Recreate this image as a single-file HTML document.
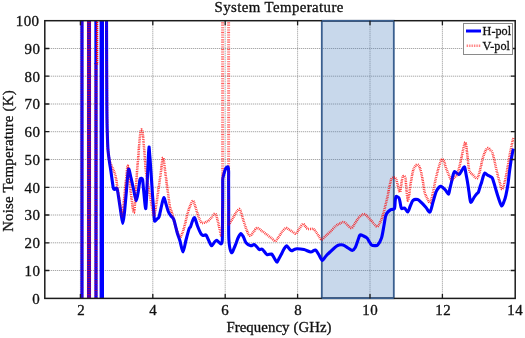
<!DOCTYPE html><html><head><meta charset="utf-8"><title>System Temperature</title><style>html,body{margin:0;padding:0;background:#fff}
#w{position:relative;width:525px;height:338px;overflow:hidden;background:#fff;font-family:"Liberation Serif",serif;color:#111;font-size:14.5px;line-height:1;-webkit-text-stroke:0.3px #111}
#w div{position:absolute;white-space:nowrap}
.yt{right:485.6px;text-align:right;font-size:13.6px;letter-spacing:0.3px;margin-right:-0.3px;transform-origin:100% 50%;transform:scaleX(1.1)}
.xt{width:40px;text-align:center;font-size:13.6px;letter-spacing:0.3px;text-indent:0.3px;top:303.6px;transform:scaleX(1.1)}
</style></head><body><div id="w">
<svg width="525" height="338" viewBox="0 0 525 338" style="position:absolute;left:0;top:0">
<defs><clipPath id="c"><rect x="44.8" y="20.7" width="470.4" height="277.7"/></clipPath></defs>
<rect x="0" y="0" width="525" height="338" fill="#fff"/>
<path d="M80.4,20.7V298.4M152.8,20.7V298.4M225.2,20.7V298.4M297.6,20.7V298.4M370.0,20.7V298.4M442.4,20.7V298.4M44.8,270.5H515.2M44.8,242.8H515.2M44.8,215.0H515.2M44.8,187.3H515.2M44.8,159.5H515.2M44.8,131.7H515.2M44.8,104.0H515.2M44.8,76.2H515.2M44.8,48.5H515.2" stroke="#808080" stroke-width="1" stroke-dasharray="1 1" fill="none" opacity="0.85"/>
<rect x="321.8" y="20.8" width="72" height="277.4" fill="#4f81bd" fill-opacity="0.31" stroke="#3a5f8f" stroke-width="1.8"/>
<g clip-path="url(#c)" fill="none" stroke-linejoin="round" stroke-linecap="butt">
<path d="M106.5,10.0C106.6,30.0 107.0,106.7 107.2,130.0C107.5,153.3 107.6,145.0 108.0,150.0C108.4,155.0 108.8,157.0 109.5,160.0C110.2,163.0 111.5,165.4 112.5,168.0C113.5,170.6 114.6,172.2 115.4,175.4C116.2,178.6 116.7,183.2 117.3,187.0C117.9,190.8 118.4,193.7 119.2,198.5C120.0,203.3 121.3,214.6 122.0,216.0C122.7,217.4 122.9,210.5 123.3,207.0C123.7,203.5 124.0,199.5 124.5,195.0C125.0,190.5 125.5,184.9 126.0,180.0C126.5,175.1 127.2,166.5 127.7,165.8C128.2,165.1 128.5,172.0 129.0,176.0C129.5,180.0 129.7,183.9 130.5,190.0C131.3,196.1 133.0,211.9 133.8,212.7C134.6,213.5 135.0,201.8 135.5,195.0C136.0,188.2 136.5,178.5 137.0,172.0C137.5,165.5 137.9,161.0 138.3,156.0C138.7,151.0 139.1,145.9 139.4,142.0C139.8,138.1 140.1,134.6 140.4,132.5C140.8,130.4 141.1,129.6 141.5,129.6C141.9,129.6 142.2,130.4 142.6,132.5C142.9,134.6 143.2,138.1 143.6,142.0C143.9,145.9 144.3,151.0 144.7,156.0C145.1,161.0 145.3,166.3 146.0,172.0C146.7,177.7 148.0,184.2 149.0,190.0C150.0,195.8 151.2,202.7 152.0,207.0C152.8,211.3 153.4,215.7 154.0,216.0C154.6,216.3 155.0,211.7 155.5,209.0C156.0,206.3 156.2,205.7 157.0,200.0C157.8,194.3 159.5,182.1 160.5,175.0C161.5,167.9 162.2,157.9 163.0,157.7C163.8,157.5 164.7,168.1 165.5,174.0C166.3,179.9 167.2,187.5 168.0,193.0C168.8,198.5 169.3,203.7 170.0,207.0C170.7,210.3 171.1,209.9 172.0,213.0C172.9,216.1 174.2,222.0 175.4,225.8C176.6,229.6 178.1,234.0 179.0,235.8C179.9,237.6 180.0,237.8 180.8,236.5C181.6,235.2 182.8,232.1 184.0,228.0C185.2,223.9 186.9,215.8 188.0,212.0C189.1,208.2 189.7,206.9 190.5,205.0C191.3,203.1 192.2,200.7 193.0,200.8C193.8,200.9 194.3,203.6 195.0,205.5C195.7,207.4 196.2,209.8 197.0,212.0C197.8,214.2 198.6,217.2 199.5,219.0C200.4,220.8 200.9,222.7 202.3,223.0C203.7,223.3 206.4,222.0 208.0,221.0C209.6,220.0 210.8,218.2 212.0,217.0C213.2,215.8 214.4,213.0 215.4,213.8C216.4,214.6 217.2,219.0 218.0,222.0C218.8,225.0 219.7,229.7 220.3,232.0C220.9,234.3 221.1,237.2 221.5,236.0C221.9,234.8 222.3,236.0 222.5,225.0C222.7,214.0 222.6,179.2 222.6,170.0" stroke="#ff0000" stroke-dasharray="0.8 0.9" stroke-width="2.5" opacity="0.72"/>
<path d="M228.7,170.0C228.7,178.3 228.7,211.0 228.8,220.0C228.9,229.0 228.5,224.1 229.2,223.8C229.9,223.5 231.8,220.0 233.0,218.0C234.2,216.0 235.4,213.5 236.5,212.0C237.6,210.5 238.7,208.9 239.4,209.0C240.2,209.1 240.4,210.8 241.0,212.5C241.6,214.2 242.0,215.9 243.0,219.0C244.0,222.1 245.8,228.2 247.0,231.0C248.2,233.8 248.9,235.6 250.0,235.8C251.1,236.0 252.3,233.3 253.5,232.0C254.7,230.7 255.6,228.2 257.0,228.0C258.4,227.8 260.2,229.8 262.0,231.0C263.8,232.2 266.3,234.2 268.0,235.5C269.7,236.8 270.8,237.6 272.0,238.5C273.2,239.4 274.3,241.1 275.3,241.0C276.3,240.9 276.9,239.5 278.0,238.0C279.1,236.5 280.7,233.7 282.0,232.0C283.3,230.3 284.8,228.4 286.0,228.0C287.2,227.6 287.8,228.9 289.0,229.6C290.2,230.3 291.8,231.3 293.0,232.0C294.2,232.7 294.9,234.1 296.0,233.5C297.1,232.9 298.3,230.1 299.5,228.5C300.7,226.9 302.0,224.3 303.0,224.0C304.0,223.7 304.7,225.7 305.5,226.5C306.3,227.3 306.4,228.4 307.7,228.8C308.9,229.2 311.7,228.6 313.0,229.0C314.3,229.4 314.5,229.9 315.4,231.0C316.3,232.1 317.5,234.1 318.5,235.5C319.5,236.9 320.3,239.5 321.5,239.6C322.7,239.7 324.1,237.3 325.5,236.0C326.9,234.7 328.2,233.7 330.0,232.0C331.8,230.3 334.3,227.2 336.0,225.8C337.7,224.4 338.7,224.1 340.0,223.5C341.3,222.9 342.6,221.8 343.8,222.0C345.1,222.2 346.2,224.0 347.5,225.0C348.8,226.0 350.2,228.4 351.5,228.0C352.8,227.6 354.2,224.3 355.5,222.5C356.8,220.7 357.9,218.6 359.0,217.3C360.1,216.1 361.2,215.6 362.0,215.0C362.8,214.4 363.1,213.8 364.0,214.0C364.9,214.2 366.2,215.3 367.5,216.5C368.8,217.7 370.3,219.7 371.5,221.0C372.7,222.3 373.6,223.6 374.5,224.5C375.4,225.4 376.2,226.5 377.0,226.5C377.8,226.5 378.4,225.4 379.0,224.5C379.6,223.6 380.1,222.6 380.8,221.0C381.5,219.4 382.2,217.7 383.0,215.0C383.8,212.3 384.7,208.2 385.5,205.0C386.3,201.8 387.0,199.1 387.7,195.8C388.4,192.5 389.2,187.8 389.8,185.0C390.4,182.2 390.8,180.1 391.5,178.8C392.2,177.6 393.2,177.5 394.0,177.5C394.8,177.5 395.3,177.6 396.0,179.0C396.7,180.4 397.3,183.8 398.0,186.0C398.7,188.2 399.4,192.5 400.0,192.0C400.6,191.5 401.0,185.6 401.5,183.0C402.0,180.4 402.4,177.3 403.0,176.5C403.6,175.7 404.8,175.8 405.4,178.0C406.0,180.2 406.1,186.3 406.5,190.0C406.9,193.7 407.3,199.4 407.7,200.4C408.1,201.4 408.6,198.4 409.0,196.0C409.4,193.6 409.6,190.2 410.3,186.0C411.0,181.8 412.1,174.3 413.0,171.0C413.9,167.7 414.7,167.1 415.5,166.0C416.3,164.9 416.9,164.3 417.7,164.6C418.4,164.9 419.2,165.8 420.0,168.0C420.8,170.2 421.5,174.0 422.3,178.0C423.1,182.0 423.7,188.5 424.6,192.0C425.5,195.5 426.6,197.2 427.5,199.0C428.4,200.8 429.3,202.7 430.0,202.7C430.7,202.7 431.0,200.8 431.5,199.0C432.0,197.2 432.3,195.2 433.0,192.0C433.7,188.8 434.7,183.7 435.5,180.0C436.3,176.3 437.2,172.9 438.0,170.0C438.8,167.1 439.6,164.3 440.3,162.5C441.0,160.7 441.6,159.3 442.3,159.2C443.0,159.1 443.7,160.5 444.3,162.0C444.9,163.5 445.2,165.8 446.0,168.0C446.8,170.2 447.9,173.0 448.8,175.0C449.7,177.0 450.6,179.6 451.5,180.0C452.4,180.4 453.4,178.4 454.3,177.5C455.2,176.6 456.2,176.2 457.0,174.6C457.8,173.0 458.3,170.4 459.0,168.0C459.7,165.6 460.3,163.2 461.0,160.0C461.7,156.8 462.6,151.9 463.3,149.0C464.0,146.1 464.8,141.8 465.4,142.3C466.0,142.8 466.5,148.6 467.0,152.0C467.5,155.4 467.8,159.8 468.2,163.0C468.6,166.2 468.7,169.0 469.5,171.0C470.3,173.0 471.8,173.8 473.0,175.0C474.2,176.2 475.8,178.7 476.8,178.5C477.8,178.3 478.3,176.1 479.0,174.0C479.7,171.9 480.3,168.8 481.0,166.0C481.7,163.2 482.2,159.9 483.0,157.4C483.8,154.9 484.7,152.6 485.5,151.0C486.3,149.4 487.2,148.2 488.0,148.0C488.8,147.8 489.6,149.3 490.3,150.0C491.0,150.7 491.6,150.6 492.3,152.4C493.0,154.2 493.7,157.5 494.5,161.0C495.3,164.5 496.4,169.9 497.3,173.5C498.2,177.1 499.0,179.9 499.8,182.5C500.6,185.1 501.4,189.4 502.2,189.3C503.0,189.2 503.9,185.2 504.7,182.0C505.5,178.8 506.4,174.1 507.2,169.8C508.0,165.5 508.7,160.3 509.5,156.0C510.3,151.7 511.4,146.8 512.0,143.7C512.6,140.6 513.2,138.4 513.4,137.4" stroke="#ff0000" stroke-dasharray="0.8 0.9" stroke-width="2.5" opacity="0.72"/>
<path d="M222.6,10V170M228.6,10V170" stroke="#ff0000" stroke-dasharray="0.8 0.9" stroke-width="3" opacity="0.62"/>
<path d="M82,10V300" stroke="#0000ff" stroke-width="3.2"/>
<path d="M89,10V300" stroke="#0000ff" stroke-width="4"/>
<path d="M96,63V300" stroke="#0000ff" stroke-width="3.3"/>
<path d="M95.8,10V64" stroke="#0000ff" stroke-width="2.9"/>
<path d="M101.8,10V300" stroke="#0000ff" stroke-width="4.4"/>
<path d="M106.5,10.0C106.5,22.0 106.7,84.0 106.8,100.0C106.9,116.0 107.0,123.3 107.2,130.0C107.4,136.7 107.7,146.0 108.0,150.0C108.3,154.0 108.8,156.8 109.2,160.0C109.6,163.2 110.8,170.3 111.3,174.0C111.8,177.7 112.9,185.9 113.3,188.0C113.7,190.1 114.0,189.4 114.5,189.5C115.0,189.6 116.4,187.1 117.0,188.5C117.6,189.9 118.5,196.9 119.0,200.0C119.5,203.1 120.3,208.9 120.8,212.0C121.3,215.1 122.3,223.5 122.8,223.5C123.3,223.5 124.0,216.5 124.5,212.0C125.0,207.5 126.0,195.7 126.5,190.0C127.0,184.3 127.9,170.8 128.5,169.2C129.1,167.6 130.3,175.3 131.0,178.0C131.7,180.7 132.9,186.5 133.6,189.5C134.3,192.5 135.5,200.7 136.2,200.8C136.9,200.9 138.0,192.8 138.5,190.0C139.0,187.2 139.6,181.1 140.0,179.5C140.4,177.9 141.0,178.2 141.3,178.2C141.6,178.2 142.3,177.9 142.6,179.5C142.9,181.1 143.2,186.1 143.6,190.0C144.0,193.9 145.3,209.8 145.8,208.5C146.3,207.2 147.0,186.7 147.3,180.0C147.6,173.3 148.1,162.4 148.3,158.0C148.5,153.6 148.8,147.3 149.0,147.0C149.2,146.7 149.5,152.7 149.8,156.0C150.1,159.3 150.6,166.8 151.0,172.0C151.4,177.2 152.1,189.7 152.5,195.0C152.9,200.3 153.5,208.5 153.8,212.0C154.1,215.5 154.2,220.1 154.6,221.0C155.0,221.9 156.4,219.5 157.0,219.0C157.6,218.5 158.4,218.7 159.0,217.0C159.6,215.3 160.9,208.6 161.5,206.0C162.1,203.4 163.2,198.0 163.8,197.7C164.4,197.4 165.4,202.1 166.0,204.0C166.6,205.9 167.8,210.4 168.5,212.0C169.2,213.6 170.3,215.0 171.0,216.0C171.7,217.0 173.0,217.5 173.8,219.6C174.6,221.7 176.2,229.1 177.0,232.0C177.8,234.9 179.2,238.3 180.0,241.0C180.8,243.7 182.2,252.1 183.0,252.0C183.8,251.9 185.2,243.1 186.0,240.0C186.8,236.9 188.6,230.2 189.2,228.5C189.8,226.8 190.1,228.0 190.5,227.0C190.9,226.0 192.0,222.2 192.5,221.0C193.0,219.8 193.9,217.0 194.6,217.7C195.3,218.4 196.7,223.9 197.5,226.0C198.3,228.1 200.1,232.2 200.8,233.5C201.5,234.8 202.3,235.3 203.0,235.5C203.7,235.7 205.3,234.4 206.0,235.0C206.7,235.6 207.8,238.6 208.5,240.0C209.2,241.4 210.7,245.5 211.5,245.8C212.3,246.1 213.8,242.7 214.5,242.0C215.2,241.3 216.2,240.1 217.0,240.4C217.8,240.7 220.1,244.1 220.8,244.0C221.5,243.9 222.1,244.5 222.3,240.0C222.5,235.5 222.5,216.7 222.6,210.0C222.7,203.3 222.7,193.9 222.7,190.0C222.7,186.1 222.7,182.7 222.7,181.0C222.7,179.3 222.7,178.8 223.0,177.5C223.3,176.2 224.2,172.8 224.6,171.5C225.0,170.2 225.7,168.6 226.0,168.0C226.3,167.4 226.9,167.1 227.2,167.0C227.5,166.9 228.0,166.8 228.2,167.3C228.4,167.8 228.5,169.3 228.6,171.0C228.7,172.7 228.6,174.8 228.6,180.0C228.6,185.2 228.7,202.0 228.7,210.0C228.7,218.0 228.5,234.3 228.9,240.0C229.3,245.7 230.7,251.9 231.5,252.7C232.3,253.5 234.1,248.0 235.0,246.0C235.9,244.0 237.2,239.7 238.0,238.0C238.8,236.3 240.1,233.6 240.8,233.5C241.5,233.4 242.8,235.8 243.5,237.0C244.2,238.2 245.0,241.5 246.0,242.7C247.0,243.9 249.7,245.5 250.8,245.8C251.9,246.1 253.2,244.4 254.0,244.6C254.8,244.8 256.3,246.3 257.0,247.0C257.7,247.7 258.8,249.3 259.5,249.6C260.2,249.9 261.3,248.5 262.3,249.2C263.3,249.9 265.8,254.0 267.0,254.6C268.2,255.2 270.5,253.5 271.5,254.0C272.5,254.5 273.8,257.4 274.5,258.5C275.2,259.6 276.4,262.4 277.0,262.3C277.6,262.2 278.7,259.1 279.3,258.0C279.9,256.9 280.9,255.2 281.5,254.0C282.1,252.8 283.3,250.1 284.0,249.0C284.7,247.9 285.8,245.9 286.5,245.8C287.2,245.7 288.3,247.8 289.0,248.5C289.7,249.2 290.8,250.7 291.5,250.8C292.2,250.9 293.3,249.9 294.0,249.6C294.7,249.3 295.7,248.8 297.0,248.8C298.3,248.8 302.2,249.2 304.0,249.6C305.8,250.0 309.3,251.9 310.8,252.0C312.3,252.1 314.3,249.6 315.4,250.0C316.5,250.4 318.1,253.6 319.0,255.0C319.9,256.4 321.4,260.3 322.3,260.4C323.2,260.5 325.0,257.1 326.0,256.0C327.0,254.9 328.5,253.4 330.0,252.0C331.5,250.6 335.3,246.7 337.0,245.8C338.7,244.9 341.5,244.7 343.0,245.0C344.5,245.3 346.8,247.3 348.0,248.0C349.2,248.7 351.3,250.5 352.3,250.4C353.3,250.3 354.7,248.6 355.4,247.3C356.1,246.0 357.1,242.6 357.7,241.0C358.3,239.4 359.2,235.7 360.0,235.0C360.8,234.3 362.6,235.6 363.5,236.0C364.4,236.4 366.2,237.2 367.0,238.0C367.8,238.8 368.9,241.1 369.5,242.0C370.1,242.9 370.8,244.5 371.5,245.0C372.2,245.5 373.7,245.6 374.5,245.6C375.3,245.6 376.8,246.0 377.7,245.0C378.6,244.0 380.7,240.4 381.5,238.0C382.3,235.6 383.2,229.8 383.7,227.0C384.2,224.2 385.0,218.9 385.4,217.0C385.8,215.1 386.3,214.0 387.0,213.0C387.7,212.0 389.8,210.2 390.8,209.6C391.8,209.0 393.8,209.9 394.4,208.8C395.0,207.7 395.0,202.6 395.2,201.0C395.4,199.4 395.5,196.9 396.0,196.5C396.5,196.1 398.4,197.1 399.0,198.0C399.6,198.9 400.0,202.1 400.3,203.5C400.6,204.9 400.9,207.9 401.5,208.5C402.1,209.1 403.8,207.5 404.6,208.0C405.4,208.5 406.9,212.3 407.7,212.0C408.5,211.7 409.6,207.5 410.3,206.0C411.0,204.5 412.0,201.3 413.0,200.4C414.0,199.5 416.6,199.3 417.7,199.6C418.8,199.9 420.4,201.6 421.5,202.7C422.6,203.8 424.9,206.3 426.0,207.5C427.1,208.7 429.1,212.7 430.0,212.0C430.9,211.3 432.2,204.7 433.0,202.0C433.8,199.3 435.3,193.9 436.0,192.0C436.7,190.1 437.8,188.8 438.4,188.0C439.0,187.2 439.9,186.0 440.8,186.3C441.7,186.6 444.4,188.9 445.4,190.0C446.4,191.1 447.9,194.5 448.5,194.2C449.1,193.9 449.6,189.6 450.0,188.0C450.4,186.4 451.1,183.7 451.5,182.0C451.9,180.3 452.6,176.9 453.0,175.5C453.4,174.1 453.8,171.6 454.6,171.5C455.4,171.4 458.0,174.8 459.0,174.6C460.0,174.4 461.3,171.0 462.0,170.0C462.7,169.0 464.1,166.5 464.6,167.0C465.1,167.5 465.6,172.0 466.0,174.0C466.4,176.0 467.1,179.6 467.5,182.0C467.9,184.4 468.6,189.3 469.0,192.0C469.4,194.7 470.0,201.5 470.7,202.2C471.4,202.9 473.2,198.7 474.0,197.5C474.8,196.3 476.4,194.2 477.0,193.5C477.6,192.8 478.1,192.9 478.5,192.0C478.9,191.1 479.6,188.3 480.0,187.0C480.4,185.7 481.3,183.4 481.7,182.0C482.1,180.6 482.8,177.7 483.2,176.5C483.6,175.3 484.2,173.2 484.8,173.0C485.4,172.8 486.8,174.5 487.5,175.0C488.2,175.5 489.8,176.2 490.4,176.6C491.0,177.0 491.8,177.1 492.3,178.0C492.8,178.9 493.5,181.4 494.0,183.0C494.5,184.6 495.4,187.9 496.0,190.0C496.6,192.1 498.1,196.9 498.8,199.0C499.5,201.1 500.9,205.7 501.6,206.0C502.3,206.3 503.4,203.0 504.0,201.5C504.6,200.0 505.5,197.1 506.0,194.8C506.5,192.5 507.5,187.3 508.0,184.0C508.5,180.7 509.2,173.5 509.7,170.0C510.2,166.5 511.0,160.8 511.5,158.0C512.0,155.2 513.1,149.9 513.4,148.7" stroke="#0000ff" stroke-width="3.1"/>
<path d="M82,10V300" stroke="#ff0000" stroke-dasharray="0.8 0.9" stroke-width="3.4" opacity="0.28"/>
<path d="M89,10V300" stroke="#ff0000" stroke-dasharray="1 0.7" stroke-width="4.2" opacity="0.62"/>
<path d="M96,64V300" stroke="#ff0000" stroke-dasharray="0.8 0.9" stroke-width="3.4" opacity="0.5"/>
<path d="M97.1,10V64.5" stroke="#ff0000" stroke-dasharray="1.2 0.8" stroke-width="2.4" opacity="0.9"/>
<path d="M106.5,10.0C106.6,30.0 107.0,106.7 107.2,130.0C107.5,153.3 107.6,145.0 108.0,150.0C108.4,155.0 108.8,157.0 109.5,160.0C110.2,163.0 111.5,165.4 112.5,168.0C113.5,170.6 114.6,172.2 115.4,175.4C116.2,178.6 116.7,183.2 117.3,187.0C117.9,190.8 118.4,193.7 119.2,198.5C120.0,203.3 121.3,214.6 122.0,216.0C122.7,217.4 122.9,210.5 123.3,207.0C123.7,203.5 124.0,199.5 124.5,195.0C125.0,190.5 125.5,184.9 126.0,180.0C126.5,175.1 127.2,166.5 127.7,165.8C128.2,165.1 128.5,172.0 129.0,176.0C129.5,180.0 129.7,183.9 130.5,190.0C131.3,196.1 133.0,211.9 133.8,212.7C134.6,213.5 135.0,201.8 135.5,195.0C136.0,188.2 136.5,178.5 137.0,172.0C137.5,165.5 137.9,161.0 138.3,156.0C138.7,151.0 139.1,145.9 139.4,142.0C139.8,138.1 140.1,134.6 140.4,132.5C140.8,130.4 141.1,129.6 141.5,129.6C141.9,129.6 142.2,130.4 142.6,132.5C142.9,134.6 143.2,138.1 143.6,142.0C143.9,145.9 144.3,151.0 144.7,156.0C145.1,161.0 145.3,166.3 146.0,172.0C146.7,177.7 148.0,184.2 149.0,190.0C150.0,195.8 151.2,202.7 152.0,207.0C152.8,211.3 153.4,215.7 154.0,216.0C154.6,216.3 155.0,211.7 155.5,209.0C156.0,206.3 156.2,205.7 157.0,200.0C157.8,194.3 159.5,182.1 160.5,175.0C161.5,167.9 162.2,157.9 163.0,157.7C163.8,157.5 164.7,168.1 165.5,174.0C166.3,179.9 167.2,187.5 168.0,193.0C168.8,198.5 169.3,203.7 170.0,207.0C170.7,210.3 171.1,209.9 172.0,213.0C172.9,216.1 174.2,222.0 175.4,225.8C176.6,229.6 178.1,234.0 179.0,235.8C179.9,237.6 180.0,237.8 180.8,236.5C181.6,235.2 182.8,232.1 184.0,228.0C185.2,223.9 186.9,215.8 188.0,212.0C189.1,208.2 189.7,206.9 190.5,205.0C191.3,203.1 192.2,200.7 193.0,200.8C193.8,200.9 194.3,203.6 195.0,205.5C195.7,207.4 196.2,209.8 197.0,212.0C197.8,214.2 198.6,217.2 199.5,219.0C200.4,220.8 200.9,222.7 202.3,223.0C203.7,223.3 206.4,222.0 208.0,221.0C209.6,220.0 210.8,218.2 212.0,217.0C213.2,215.8 214.4,213.0 215.4,213.8C216.4,214.6 217.2,219.0 218.0,222.0C218.8,225.0 219.7,229.7 220.3,232.0C220.9,234.3 221.1,237.2 221.5,236.0C221.9,234.8 222.3,236.0 222.5,225.0C222.7,214.0 222.6,179.2 222.6,170.0" stroke="#ff0000" stroke-dasharray="0.8 0.9" stroke-width="2.5" opacity="0.25"/>
<path d="M228.7,170.0C228.7,178.3 228.7,211.0 228.8,220.0C228.9,229.0 228.5,224.1 229.2,223.8C229.9,223.5 231.8,220.0 233.0,218.0C234.2,216.0 235.4,213.5 236.5,212.0C237.6,210.5 238.7,208.9 239.4,209.0C240.2,209.1 240.4,210.8 241.0,212.5C241.6,214.2 242.0,215.9 243.0,219.0C244.0,222.1 245.8,228.2 247.0,231.0C248.2,233.8 248.9,235.6 250.0,235.8C251.1,236.0 252.3,233.3 253.5,232.0C254.7,230.7 255.6,228.2 257.0,228.0C258.4,227.8 260.2,229.8 262.0,231.0C263.8,232.2 266.3,234.2 268.0,235.5C269.7,236.8 270.8,237.6 272.0,238.5C273.2,239.4 274.3,241.1 275.3,241.0C276.3,240.9 276.9,239.5 278.0,238.0C279.1,236.5 280.7,233.7 282.0,232.0C283.3,230.3 284.8,228.4 286.0,228.0C287.2,227.6 287.8,228.9 289.0,229.6C290.2,230.3 291.8,231.3 293.0,232.0C294.2,232.7 294.9,234.1 296.0,233.5C297.1,232.9 298.3,230.1 299.5,228.5C300.7,226.9 302.0,224.3 303.0,224.0C304.0,223.7 304.7,225.7 305.5,226.5C306.3,227.3 306.4,228.4 307.7,228.8C308.9,229.2 311.7,228.6 313.0,229.0C314.3,229.4 314.5,229.9 315.4,231.0C316.3,232.1 317.5,234.1 318.5,235.5C319.5,236.9 320.3,239.5 321.5,239.6C322.7,239.7 324.1,237.3 325.5,236.0C326.9,234.7 328.2,233.7 330.0,232.0C331.8,230.3 334.3,227.2 336.0,225.8C337.7,224.4 338.7,224.1 340.0,223.5C341.3,222.9 342.6,221.8 343.8,222.0C345.1,222.2 346.2,224.0 347.5,225.0C348.8,226.0 350.2,228.4 351.5,228.0C352.8,227.6 354.2,224.3 355.5,222.5C356.8,220.7 357.9,218.6 359.0,217.3C360.1,216.1 361.2,215.6 362.0,215.0C362.8,214.4 363.1,213.8 364.0,214.0C364.9,214.2 366.2,215.3 367.5,216.5C368.8,217.7 370.3,219.7 371.5,221.0C372.7,222.3 373.6,223.6 374.5,224.5C375.4,225.4 376.2,226.5 377.0,226.5C377.8,226.5 378.4,225.4 379.0,224.5C379.6,223.6 380.1,222.6 380.8,221.0C381.5,219.4 382.2,217.7 383.0,215.0C383.8,212.3 384.7,208.2 385.5,205.0C386.3,201.8 387.0,199.1 387.7,195.8C388.4,192.5 389.2,187.8 389.8,185.0C390.4,182.2 390.8,180.1 391.5,178.8C392.2,177.6 393.2,177.5 394.0,177.5C394.8,177.5 395.3,177.6 396.0,179.0C396.7,180.4 397.3,183.8 398.0,186.0C398.7,188.2 399.4,192.5 400.0,192.0C400.6,191.5 401.0,185.6 401.5,183.0C402.0,180.4 402.4,177.3 403.0,176.5C403.6,175.7 404.8,175.8 405.4,178.0C406.0,180.2 406.1,186.3 406.5,190.0C406.9,193.7 407.3,199.4 407.7,200.4C408.1,201.4 408.6,198.4 409.0,196.0C409.4,193.6 409.6,190.2 410.3,186.0C411.0,181.8 412.1,174.3 413.0,171.0C413.9,167.7 414.7,167.1 415.5,166.0C416.3,164.9 416.9,164.3 417.7,164.6C418.4,164.9 419.2,165.8 420.0,168.0C420.8,170.2 421.5,174.0 422.3,178.0C423.1,182.0 423.7,188.5 424.6,192.0C425.5,195.5 426.6,197.2 427.5,199.0C428.4,200.8 429.3,202.7 430.0,202.7C430.7,202.7 431.0,200.8 431.5,199.0C432.0,197.2 432.3,195.2 433.0,192.0C433.7,188.8 434.7,183.7 435.5,180.0C436.3,176.3 437.2,172.9 438.0,170.0C438.8,167.1 439.6,164.3 440.3,162.5C441.0,160.7 441.6,159.3 442.3,159.2C443.0,159.1 443.7,160.5 444.3,162.0C444.9,163.5 445.2,165.8 446.0,168.0C446.8,170.2 447.9,173.0 448.8,175.0C449.7,177.0 450.6,179.6 451.5,180.0C452.4,180.4 453.4,178.4 454.3,177.5C455.2,176.6 456.2,176.2 457.0,174.6C457.8,173.0 458.3,170.4 459.0,168.0C459.7,165.6 460.3,163.2 461.0,160.0C461.7,156.8 462.6,151.9 463.3,149.0C464.0,146.1 464.8,141.8 465.4,142.3C466.0,142.8 466.5,148.6 467.0,152.0C467.5,155.4 467.8,159.8 468.2,163.0C468.6,166.2 468.7,169.0 469.5,171.0C470.3,173.0 471.8,173.8 473.0,175.0C474.2,176.2 475.8,178.7 476.8,178.5C477.8,178.3 478.3,176.1 479.0,174.0C479.7,171.9 480.3,168.8 481.0,166.0C481.7,163.2 482.2,159.9 483.0,157.4C483.8,154.9 484.7,152.6 485.5,151.0C486.3,149.4 487.2,148.2 488.0,148.0C488.8,147.8 489.6,149.3 490.3,150.0C491.0,150.7 491.6,150.6 492.3,152.4C493.0,154.2 493.7,157.5 494.5,161.0C495.3,164.5 496.4,169.9 497.3,173.5C498.2,177.1 499.0,179.9 499.8,182.5C500.6,185.1 501.4,189.4 502.2,189.3C503.0,189.2 503.9,185.2 504.7,182.0C505.5,178.8 506.4,174.1 507.2,169.8C508.0,165.5 508.7,160.3 509.5,156.0C510.3,151.7 511.4,146.8 512.0,143.7C512.6,140.6 513.2,138.4 513.4,137.4" stroke="#ff0000" stroke-dasharray="0.8 0.9" stroke-width="2.5" opacity="0.25"/>
</g>
<rect x="44.8" y="20.7" width="470.4" height="277.7" fill="none" stroke="#1c1c1c" stroke-width="1.5"/>
<path d="M321.8,20.8H393.8M321.8,298.2H393.8" stroke="#3a5f8f" stroke-width="1.6" fill="none"/>
<path d="M80.4,298.4v-4.5M80.4,20.7v4.5M152.8,298.4v-4.5M152.8,20.7v4.5M225.2,298.4v-4.5M225.2,20.7v4.5M297.6,298.4v-4.5M297.6,20.7v4.5M370.0,298.4v-4.5M370.0,20.7v4.5M442.4,298.4v-4.5M442.4,20.7v4.5M44.8,270.5h4.5M515.2,270.5h-4.5M44.8,242.8h4.5M515.2,242.8h-4.5M44.8,215.0h4.5M515.2,215.0h-4.5M44.8,187.3h4.5M515.2,187.3h-4.5M44.8,159.5h4.5M515.2,159.5h-4.5M44.8,131.7h4.5M515.2,131.7h-4.5M44.8,104.0h4.5M515.2,104.0h-4.5M44.8,76.2h4.5M515.2,76.2h-4.5M44.8,48.5h4.5M515.2,48.5h-4.5" stroke="#1c1c1c" stroke-width="1.3" fill="none"/>
<rect x="463.5" y="23.5" width="49" height="31" fill="#fff" stroke="#8a8a8a" stroke-width="1"/>
<path d="M466,31H481" stroke="#0000ff" stroke-width="3"/>
<path d="M466,45.7H481" stroke="#ff0000" stroke-dasharray="0.8 0.9" stroke-width="2.5" stroke-dashoffset="0.5" opacity="0.6"/>
</svg>
<div id="title" style="left:178.9px;width:200px;text-align:center;top:1px;font-size:14px;letter-spacing:0.38px;text-indent:0.38px;transform:scaleX(1.06)">System Temperature</div>
<div id="xl" style="left:179.3px;width:200px;text-align:center;top:320.6px;font-size:14px;letter-spacing:0.06px;transform:scaleX(1.06)">Frequency (GHz)</div>
<div id="yl" style="left:-91.5px;top:153.5px;width:200px;height:14px;text-align:center;font-size:14px;letter-spacing:0.2px;transform:rotate(-90deg) scaleX(1.06)">Noise Temperature (K)</div>
<div class="yt" style="top:292.7px">0</div>
<div class="yt" style="top:264.9px">10</div>
<div class="yt" style="top:237.2px">20</div>
<div class="yt" style="top:209.4px">30</div>
<div class="yt" style="top:181.7px">40</div>
<div class="yt" style="top:153.9px">50</div>
<div class="yt" style="top:126.1px">60</div>
<div class="yt" style="top:98.4px">70</div>
<div class="yt" style="top:70.6px">80</div>
<div class="yt" style="top:42.9px">90</div>
<div class="yt" style="top:15.1px">100</div>
<div class="xt" style="left:60.6px">2</div>
<div class="xt" style="left:133.0px">4</div>
<div class="xt" style="left:205.4px">6</div>
<div class="xt" style="left:277.8px">8</div>
<div class="xt" style="left:350.2px">10</div>
<div class="xt" style="left:422.6px">12</div>
<div class="xt" style="left:495.0px">14</div>
<div id="l1" style="left:482.6px;top:24.8px;font-size:12.2px;letter-spacing:0">H-pol</div>
<div id="l2" style="left:482.6px;top:40.1px;font-size:12.2px;letter-spacing:0">V-pol</div>
</div></body></html>
